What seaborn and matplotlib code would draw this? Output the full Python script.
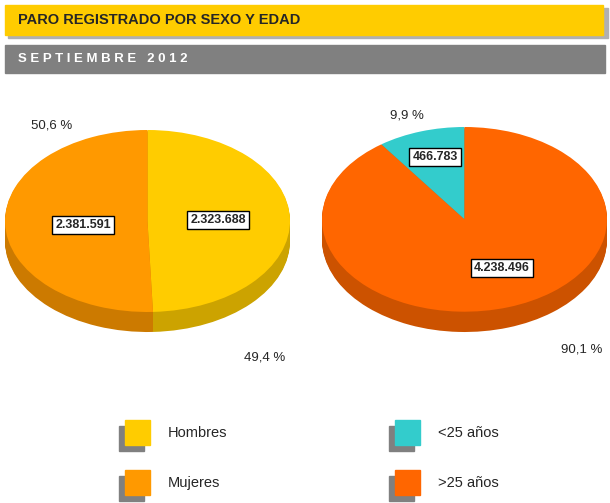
import matplotlib
matplotlib.use("Agg")
import matplotlib.pyplot as plt
import seaborn as sns
from matplotlib.patches import Rectangle
import matplotlib.colors as mc

sns.set_style("white")
plt.rcParams['font.family'] = ['Liberation Sans', 'DejaVu Sans']

sexo_labels = ["Hombres", "Mujeres"]
sexo_values = [2323688, 2381591]
sexo_colors = ["#FFCC00", "#FF9900"]
edad_labels = ["<25 años", ">25 años"]
edad_values = [466783, 4238496]
edad_colors = ["#33CCCC", "#FF6600"]

W, H = 610, 503
fig = plt.figure(figsize=(W/100, H/100), dpi=100)
def px(x, y): return (x/W, 1-y/H)
def box(x, y, w, h): return (x/W, 1-(y+h)/H, w/W, h/H)

def fmt(v): return f"{v:,}".replace(",", ".")
def pct(v, tot): return f"{100*v/tot:.1f}".replace(".", ",") + " %"
def darker(c, f=0.8):
    r, g, b = mc.to_rgb(c); return (r*f, g*f, b*f)

# header bars
fig.patches.append(Rectangle(px(8, 38), 600/W, 30/H, transform=fig.transFigure, color="#B0B0B0"))
fig.patches.append(Rectangle(px(5, 35), 598/W, 30/H, transform=fig.transFigure, color="#FFCC00"))
fig.text(*px(18, 20), "PARO REGISTRADO POR SEXO Y EDAD", fontsize=10.5, fontweight="bold", va="center")
fig.patches.append(Rectangle(px(5, 73), 600/W, 28/H, transform=fig.transFigure, color="#808080"))
fig.text(*px(18, 59), "S E P T I E M B R E   2 0 1 2", fontsize=9.5, fontweight="bold", color="white", va="center")

def pie3d(rect, values, colors, counterclock):
    ax = fig.add_axes(rect)
    n = 20
    for i in range(n, 0, -1):
        off = -0.22 * i / n
        ax.pie(values, colors=[darker(c) for c in colors], startangle=90,
               counterclock=counterclock, center=(0, off), radius=1, frame=True,
               wedgeprops=dict(linewidth=0))
    ax.pie(values, colors=colors, startangle=90, counterclock=counterclock,
           center=(0, 0), radius=1, frame=True, wedgeprops=dict(linewidth=0))
    ax.set_aspect("auto")
    ax.set_xlim(-1, 1); ax.set_ylim(-1.22, 1); ax.axis("off")
    return ax

pie3d(box(5, 130, 285, 202), sexo_values, sexo_colors, False)
pie3d(box(322, 127, 285, 205), edad_values, edad_colors, True)

bb = dict(boxstyle="square,pad=0.25", fc="white", ec="black", lw=1)
kw = dict(fontsize=9, fontweight="bold", ha="center", va="center", bbox=bb)
fig.text(*px(218, 220), fmt(sexo_values[0]), **kw)
fig.text(*px(83, 225), fmt(sexo_values[1]), **kw)
fig.text(*px(435, 157), fmt(edad_values[0]), **kw)
fig.text(*px(502, 268), fmt(edad_values[1]), **kw)

st = sum(sexo_values); et = sum(edad_values)
pk = dict(fontsize=9.5, ha="center", va="center")
fig.text(*px(52, 125), pct(sexo_values[1], st), **pk)
fig.text(*px(265, 357), pct(sexo_values[0], st), **pk)
fig.text(*px(407, 115), pct(edad_values[0], et), **pk)
fig.text(*px(582, 350), pct(edad_values[1], et), **pk)

# legend
legpos = [(125, 420, sexo_labels[0], sexo_colors[0]), (125, 470, sexo_labels[1], sexo_colors[1]),
          (395, 420, edad_labels[0], edad_colors[0]), (395, 470, edad_labels[1], edad_colors[1])]
for x, y, lab, c in legpos:
    fig.patches.append(Rectangle(px(x-6, y+31), 25/W, 25/H, transform=fig.transFigure, color="#808080"))
    fig.patches.append(Rectangle(px(x, y+25), 25/W, 25/H, transform=fig.transFigure, color=c))
    fig.text(*px(x+43, y+13), lab, fontsize=10.5, va="center")

fig.savefig("out.png", dpi=100)
